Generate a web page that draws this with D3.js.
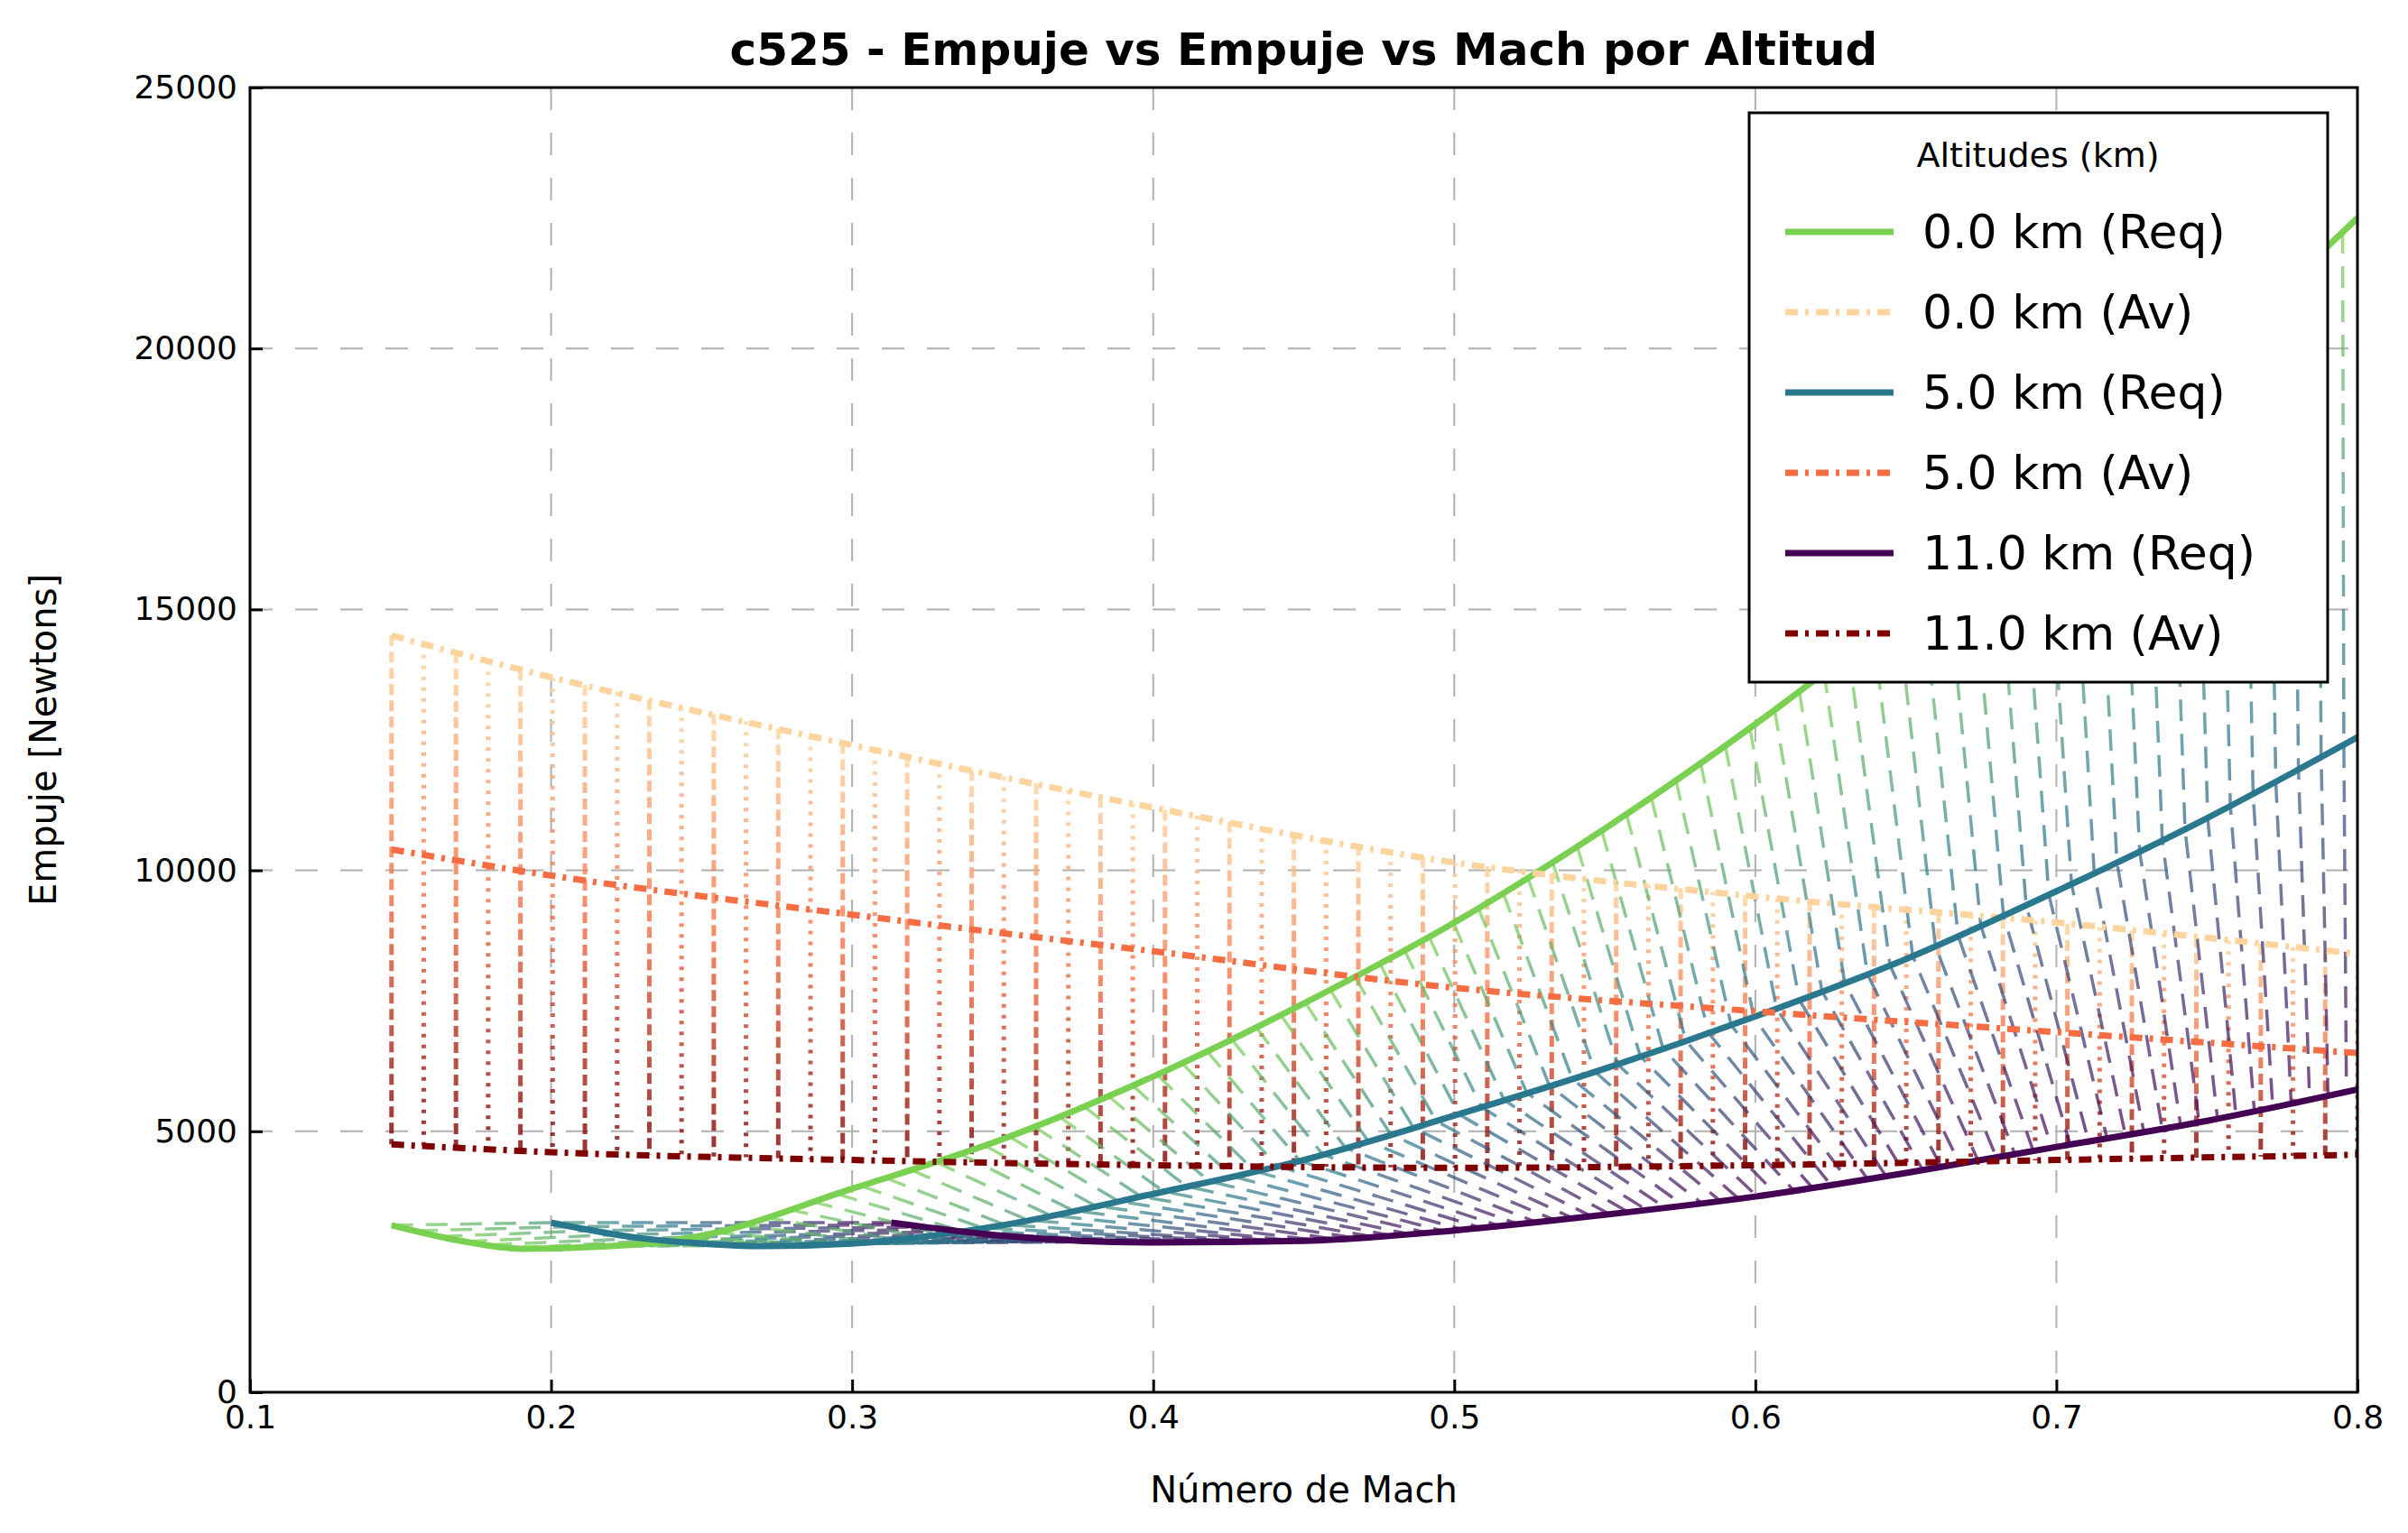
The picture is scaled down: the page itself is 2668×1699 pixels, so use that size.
<!DOCTYPE html>
<html><head><meta charset="utf-8">
<script src="https://cdn.jsdelivr.net/npm/d3@7"></script>
<style>body{margin:0;background:#fff}svg{font-family:"DejaVu Sans",sans-serif}</style>
</head><body><svg id="c" width="2668" height="1699"></svg>
<script>
// Req curves (Mach, thrust N)
const req0Mach = [0.147, 0.17, 0.19, 0.22, 0.25, 0.3, 0.35, 0.4, 0.45, 0.5, 0.55, 0.6, 0.65, 0.7, 0.75, 0.8];
const req0Val = [3200, 2900, 2750, 2800, 3000, 3900, 4850, 6050, 7450, 9000, 10800, 12800, 15000, 17300, 19800, 22500];
const req5Mach = [0.2, 0.23, 0.25, 0.27, 0.3, 0.35, 0.4, 0.45, 0.5, 0.55, 0.6, 0.65, 0.7, 0.75, 0.8];
const req5Val = [3250, 2950, 2850, 2800, 2850, 3200, 3800, 4450, 5300, 6200, 7200, 8300, 9600, 11000, 12550];
const req11Mach = [0.313, 0.35, 0.4, 0.45, 0.5, 0.55, 0.6, 0.65, 0.7, 0.75, 0.8];
const req11Val = [3250, 3000, 2870, 2900, 3100, 3400, 3750, 4200, 4700, 5200, 5800];
// Av curves
const avMach = [0.147, 0.2, 0.3, 0.4, 0.5, 0.6, 0.7, 0.8];
const av0Val = [14500, 13700, 12400, 11200, 10150, 9500, 9000, 8400];
const av5Val = [10400, 9900, 9150, 8450, 7750, 7300, 6900, 6500];
const av11Val = [4750, 4600, 4450, 4350, 4300, 4350, 4450, 4550];
const xTicks = [0.1, 0.2, 0.3, 0.4, 0.5, 0.6, 0.7, 0.8];
const yTicks = [0, 5000, 10000, 15000, 20000, 25000];
const legendLabels = ['0.0 km (Req)', '0.0 km (Av)', '5.0 km (Req)', '5.0 km (Av)', '11.0 km (Req)', '11.0 km (Av)'];
const reqColors = ['#7ad151', '#2a788e', '#440154'];
const avColors = ['#fdd49e', '#f46d43', '#7f0000'];
const stripeCount = 62;

const svg = d3.select('#c');
const L = 277, R = 2612, T = 97, B = 1543;
const x = d3.scaleLinear().domain([0.1, 0.8]).range([L, R]);
const y = d3.scaleLinear().domain([0, 25000]).range([B, T]);
const defs = svg.append('defs');
defs.append('clipPath').attr('id', 'clip').append('rect').attr('x', L).attr('y', T).attr('width', R - L).attr('height', B - T);

// grid
const g = svg.append('g');
xTicks.slice(1, -1).forEach(t => g.append('line').attr('x1', x(t)).attr('x2', x(t)).attr('y1', T).attr('y2', B)
  .attr('stroke', '#b0b0b0').attr('stroke-width', 2).attr('stroke-dasharray', '25,25'));
yTicks.slice(1, -1).forEach(t => g.append('line').attr('x1', L).attr('x2', R).attr('y1', y(t)).attr('y2', y(t))
  .attr('stroke', '#b0b0b0').attr('stroke-width', 2).attr('stroke-dasharray', '25,25'));

const plot = svg.append('g').attr('clip-path', 'url(#clip)');
const interp = (m, v) => d3.scaleLinear().domain(m).range(v).clamp(true);
const line = d3.line().x(d => x(d[0])).y(d => y(d[1])).curve(d3.curveMonotoneX);

function stripe(pts, cols, dash, w, op, id) {
  const grad = defs.append('linearGradient').attr('id', id).attr('gradientUnits', 'userSpaceOnUse')
    .attr('x1', x(pts[0][0])).attr('y1', y(pts[0][1])).attr('x2', x(pts[2][0])).attr('y2', y(pts[2][1]));
  cols.forEach((c, i) => grad.append('stop').attr('offset', i / 2).attr('stop-color', c));
  plot.append('path').attr('d', d3.line().x(d => x(d[0])).y(d => y(d[1]))(pts))
    .attr('fill', 'none').attr('stroke', `url(#${id})`).attr('stroke-width', w)
    .attr('stroke-dasharray', dash).attr('opacity', op);
}

// Av stripes (vertical)
const a0 = interp(avMach, av0Val), a5 = interp(avMach, av5Val), a11 = interp(avMach, av11Val);
for (let k = 0; k < stripeCount; k++) {
  const m = 0.147 + k * (0.8 - 0.147) / (stripeCount - 1);
  stripe([[m, a0(m)], [m, a5(m)], [m, a11(m)]], avColors, k % 2 ? '4,8' : '12,6', 5, 0.8, 'ga' + k);
}
// Req stripes (slanted)
const r0 = interp(req0Mach, req0Val), r5 = interp(req5Mach, req5Val), r11 = interp(req11Mach, req11Val);
for (let k = 0; k < stripeCount * 1.3; k++) {
  const f = k / (stripeCount * 1.3 - 1);
  const m0 = 0.147 + f * (0.8 - 0.147), m5 = 0.2 + f * 0.6, m11 = 0.313 + f * (0.8 - 0.313);
  stripe([[m0, r0(m0)], [m5, r5(m5)], [m11, r11(m11)]], reqColors, '24,14', 3.5, 0.7, 'gr' + k);
}

// main curves
const mains = [
  { d: d3.zip(req0Mach, req0Val), c: reqColors[0], dash: null },
  { d: d3.zip(avMach, av0Val), c: avColors[0], dash: '14,8,4,8' },
  { d: d3.zip(req5Mach, req5Val), c: reqColors[1], dash: null },
  { d: d3.zip(avMach, av5Val), c: avColors[1], dash: '14,8,4,8' },
  { d: d3.zip(req11Mach, req11Val), c: reqColors[2], dash: null },
  { d: d3.zip(avMach, av11Val), c: avColors[2], dash: '14,8,4,8' },
];
mains.forEach(s => plot.append('path').attr('d', line(s.d)).attr('fill', 'none')
  .attr('stroke', s.c).attr('stroke-width', 7).attr('stroke-dasharray', s.dash));

// axes frame
svg.append('rect').attr('x', L).attr('y', T).attr('width', R - L).attr('height', B - T)
  .attr('fill', 'none').attr('stroke', '#000').attr('stroke-width', 3);
const xa = svg.append('g').attr('transform', `translate(0,${B})`)
  .call(d3.axisBottom(x).tickValues(xTicks).tickFormat(d3.format('.1f')).tickSizeInner(-14).tickSizeOuter(0).tickPadding(14));
const ya = svg.append('g').attr('transform', `translate(${L},0)`)
  .call(d3.axisLeft(y).tickValues(yTicks).tickFormat(d => d).tickSizeInner(-14).tickSizeOuter(0).tickPadding(14));
[xa, ya].forEach(a => {
  a.select('.domain').remove();
  a.selectAll('line').attr('stroke-width', 3);
  a.selectAll('text').attr('font-size', 36).attr('font-family', 'DejaVu Sans').attr('fill', '#000');
});

svg.append('text').attr('x', (L + R) / 2).attr('y', 72).attr('text-anchor', 'middle')
  .attr('font-size', 50).attr('font-weight', 'bold').text('c525 - Empuje vs Empuje vs Mach por Altitud');
svg.append('text').attr('x', (L + R) / 2).attr('y', 1665).attr('text-anchor', 'middle')
  .attr('font-size', 40).text('Número de Mach');
svg.append('text').attr('transform', `translate(62,${(T + B) / 2}) rotate(-90)`).attr('text-anchor', 'middle')
  .attr('font-size', 40).text('Empuje [Newtons]');

// legend
const lg = svg.append('g').attr('transform', 'translate(1938,125)');
lg.append('rect').attr('width', 641).attr('height', 631).attr('fill', '#fff').attr('stroke', '#000').attr('stroke-width', 3);
lg.append('text').attr('x', 320).attr('y', 60).attr('text-anchor', 'middle').attr('font-size', 38).text('Altitudes (km)');
legendLabels.forEach((t, i) => {
  const yy = 132 + i * 89;
  lg.append('line').attr('x1', 40).attr('x2', 160).attr('y1', yy).attr('y2', yy)
    .attr('stroke', mains[i].c).attr('stroke-width', 7).attr('stroke-dasharray', mains[i].dash);
  lg.append('text').attr('x', 192).attr('y', yy + 18).attr('font-size', 52).text(t);
});
</script></body></html>
